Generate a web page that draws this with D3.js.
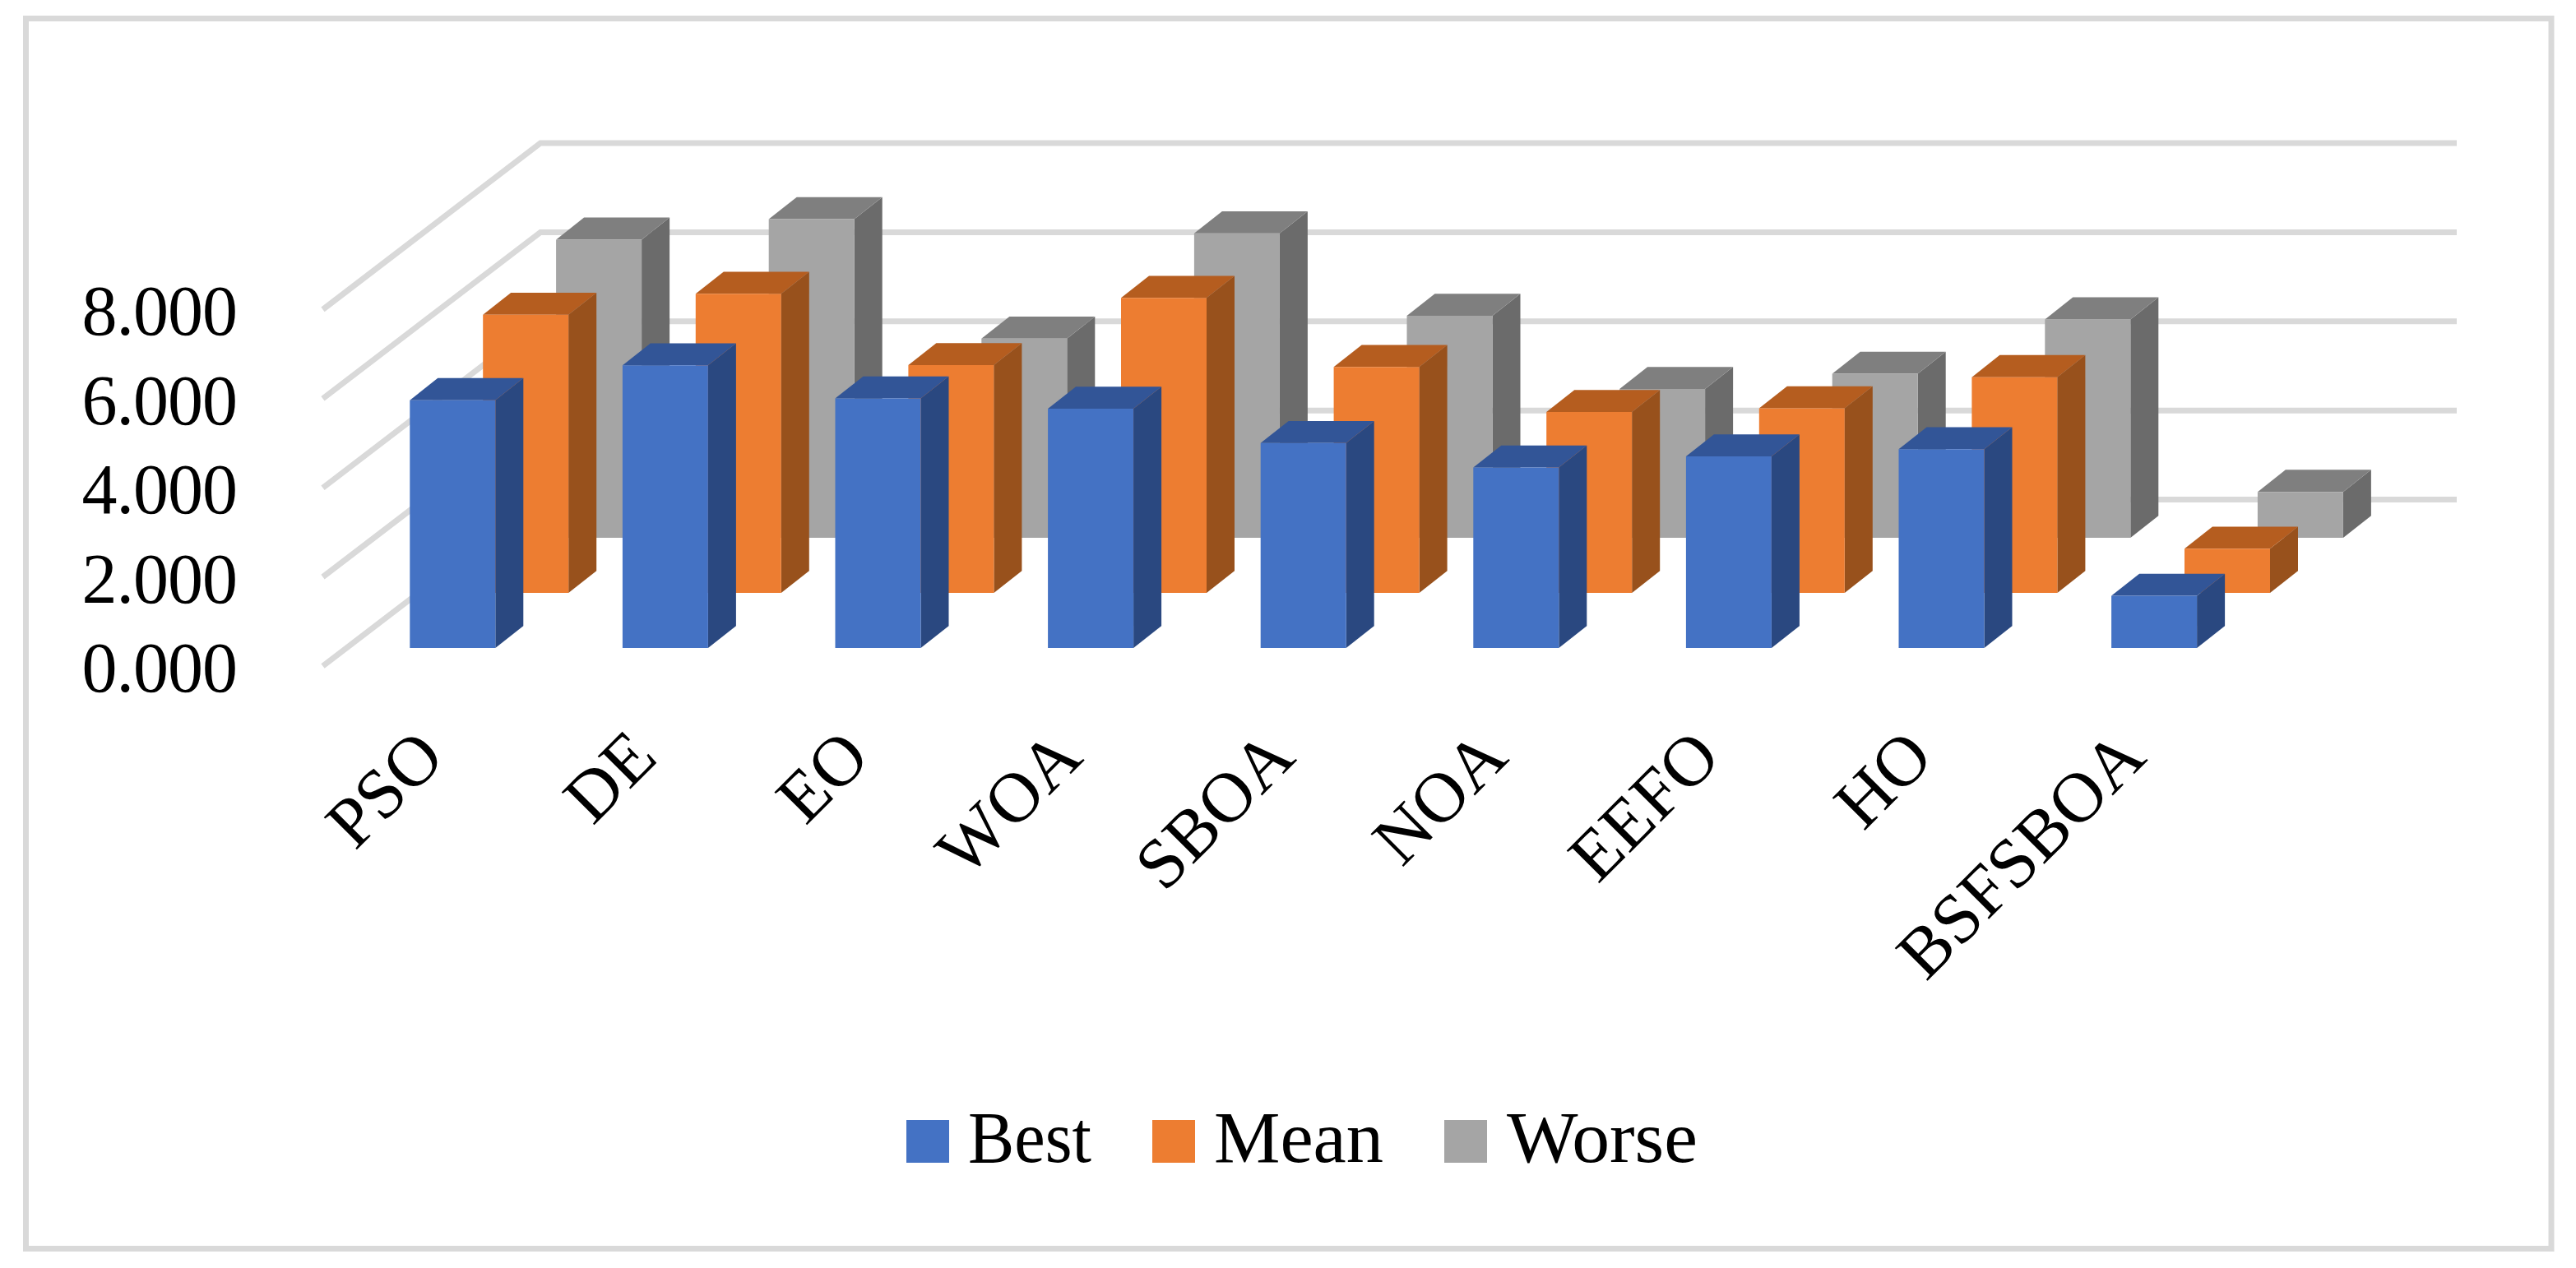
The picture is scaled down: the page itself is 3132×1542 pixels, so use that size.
<!DOCTYPE html>
<html>
<head>
<meta charset="utf-8">
<script src="https://cdn.jsdelivr.net/npm/d3@7"></script>
<style>
  html, body { margin: 0; padding: 0; background: #fff; }
  svg { display: block; }
  text { font-family: "Liberation Serif", serif; fill: #000; }
</style>
</head>
<body>
<svg width="3132" height="1542"></svg>
<script>
// Data
const categories = ["PSO", "DE", "EO", "WOA", "SBOA", "NOA", "EEFO", "HO", "BSFSBOA"];
const seriesNames = ["Best", "Mean", "Worse"];
const best = [5.56, 6.34, 5.60, 5.37, 4.60, 4.05, 4.30, 4.46, 1.17];
const mean = [6.24, 6.71, 5.11, 6.62, 5.07, 4.06, 4.14, 4.84, 0.99];
const worse = [6.69, 7.15, 4.47, 6.83, 4.98, 3.34, 3.68, 4.90, 1.03];
const yTicks = [0, 2, 4, 6, 8];

const faces = {
  Best: { front: "#4472c4", top: "#325597", side: "#2a4880" },
  Mean: { front: "#ed7d31", top: "#b55d1f", side: "#98511c" },
  Worse: { front: "#a5a5a5", top: "#7f7f7f", side: "#6b6b6b" }
};

const svg = d3.select("svg");

// Frame round the figure
svg.append("rect")
  .attr("x", 31.5).attr("y", 22.5)
  .attr("width", 3070.5).attr("height", 1496)
  .attr("fill", "#fff")
  .attr("stroke", "#d9d9d9")
  .attr("stroke-width", 7);

// Fake 3D: everything is a front plane pushed back along a fixed direction
const floor = { x: 392.5, y: 810 };    // value 0, front edge of the wall
const depth = { x: 264.6, y: -202.4 }; // front edge to back wall
const wallRight = 2987;
const seriesStep = { x: 88.9, y: -67 };
const barDepth = { x: 34, y: -26.8 };
const barWidth = 104;

const yScale = d3.scaleLinear().domain([0, 8]).range([0, 433.6]);
const xScale = d3.scaleBand().domain(categories)
  .range([498.3, 498.3 + 258.6 * categories.length])
  .paddingInner(0).paddingOuter(0).align(0);

// Gridlines
const grid = svg.append("g").attr("fill", "none")
  .attr("stroke", "#d9d9d9").attr("stroke-width", 7);
grid.selectAll("path")
  .data(yTicks)
  .enter()
  .append("path")
  .attr("d", d => {
    const y = floor.y - yScale(d);
    return d3.line()([
      [floor.x, y],
      [floor.x + depth.x, y + depth.y],
      [wallRight, y + depth.y]
    ]);
  });

// Y labels
svg.append("g").selectAll("text")
  .data(yTicks)
  .enter()
  .append("text")
  .attr("x", 288)
  .attr("y", d => floor.y - yScale(d) + 31)
  .attr("text-anchor", "end")
  .attr("font-size", 86)
  .attr("letter-spacing", -1)
  .text(d => d3.format(".3f")(d));

// Bars, back row first
const rows = [
  { name: "Worse", values: worse, row: 2 },
  { name: "Mean", values: mean, row: 1 },
  { name: "Best", values: best, row: 0 }
];

function poly(points) {
  return points.map(p => p.join(",")).join(" ");
}

rows.forEach(s => {
  const c = faces[s.name];
  const g = svg.append("g").attr("class", "series-" + s.name);
  s.values.forEach((v, i) => {
    const x0 = xScale(categories[i]) + s.row * seriesStep.x;
    const x1 = x0 + barWidth;
    const yb = 788 + s.row * seriesStep.y;
    const yt = yb - yScale(v);
    const dx = barDepth.x, dy = barDepth.y;
    g.append("polygon").attr("fill", c.side)
      .attr("points", poly([[x1, yb], [x1 + dx, yb + dy], [x1 + dx, yt + dy], [x1, yt]]));
    g.append("polygon").attr("fill", c.top)
      .attr("points", poly([[x0, yt], [x1, yt], [x1 + dx, yt + dy], [x0 + dx, yt + dy]]));
    g.append("polygon").attr("fill", c.front)
      .attr("points", poly([[x0, yb], [x1, yb], [x1, yt], [x0, yt]]));
  });
});

// X labels, rotated
svg.append("g").selectAll("text")
  .data(categories)
  .enter()
  .append("text")
  .attr("text-anchor", "end")
  .attr("font-size", 86)
  .attr("transform", d => `translate(${xScale(d) + 45},${924}) rotate(-45)`)
  .text(d => d);

// Legend
const legendX = [1102, 1401, 1756];
const legendText = [1177, 1476, 1832];
const legendWidth = [150, 206, 232];
const legend = svg.append("g");
legend.selectAll("rect")
  .data(seriesNames)
  .enter()
  .append("rect")
  .attr("x", (d, i) => legendX[i])
  .attr("y", 1362)
  .attr("width", 52)
  .attr("height", 52)
  .attr("fill", d => faces[d].front);
legend.selectAll("text")
  .data(seriesNames)
  .enter()
  .append("text")
  .attr("x", (d, i) => legendText[i])
  .attr("y", 1413)
  .attr("font-size", 88)
  .attr("textLength", (d, i) => legendWidth[i])
  .attr("lengthAdjust", "spacingAndGlyphs")
  .text(d => d);
</script>
</body>
</html>
